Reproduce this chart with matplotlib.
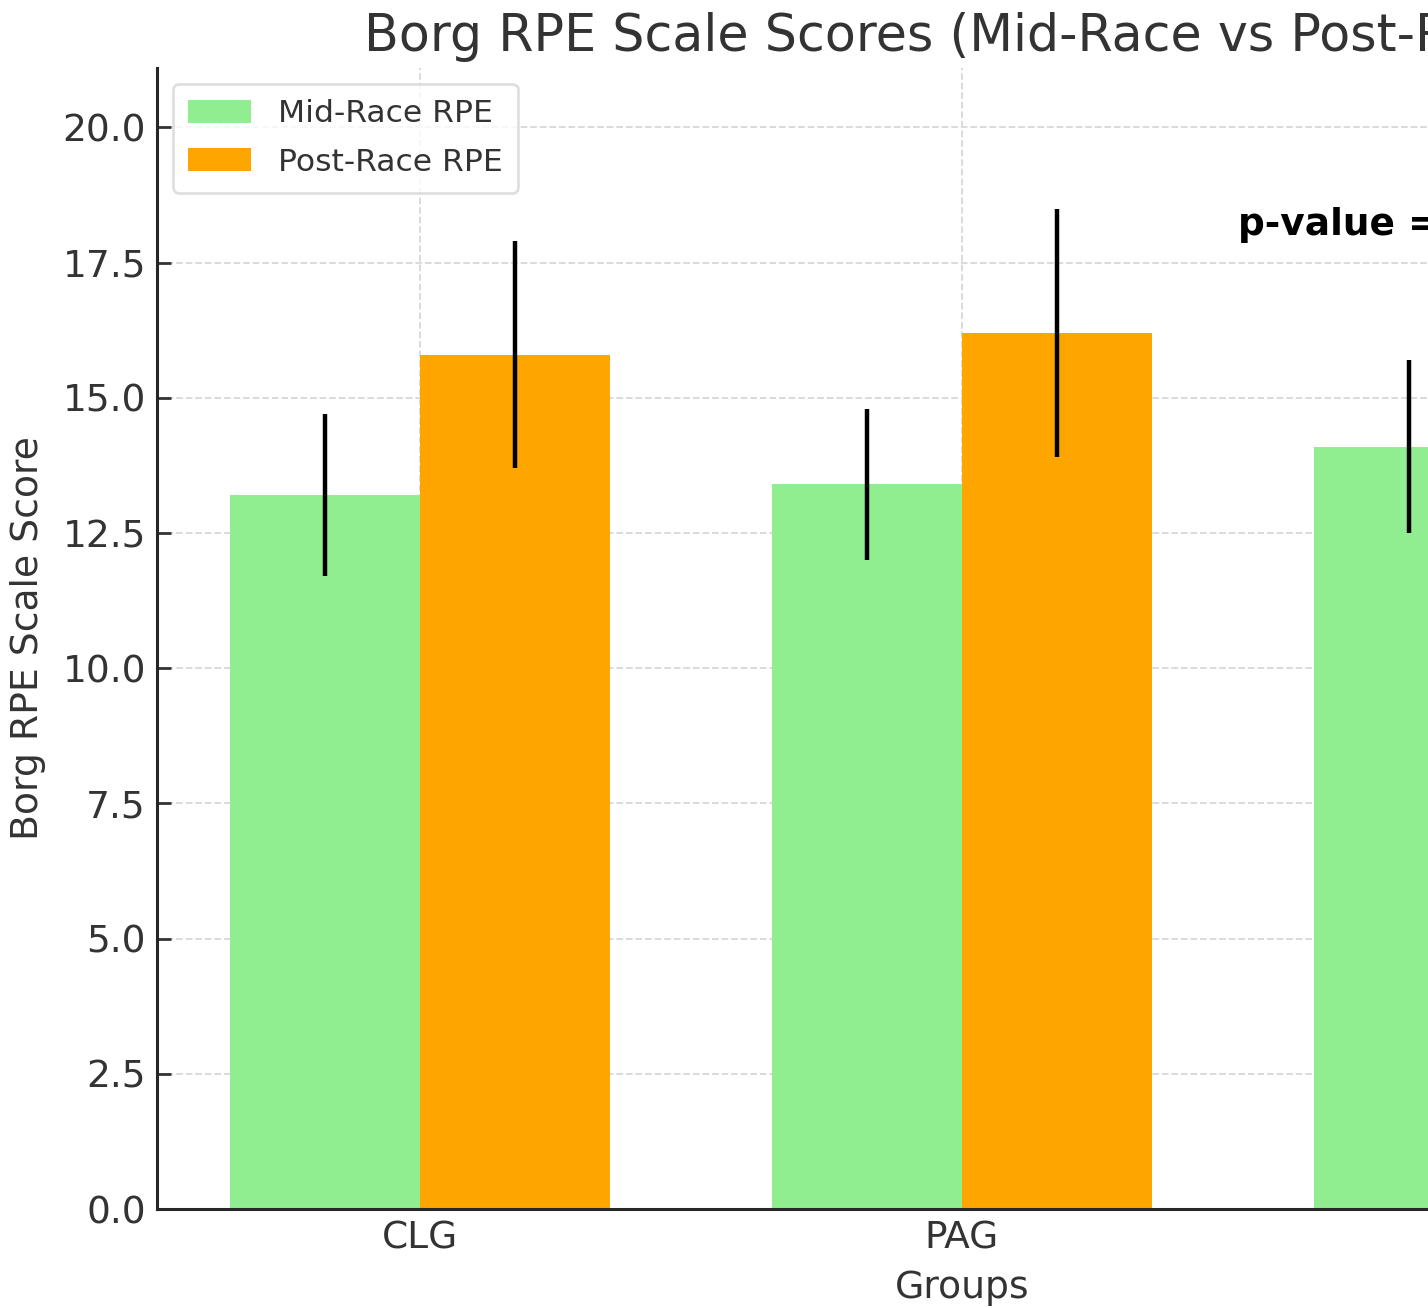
import matplotlib
matplotlib.use("Agg")
import matplotlib.pyplot as plt
import numpy as np

groups = ["CLG", "PAG", "CG"]
mid_race = [13.2, 13.4, 14.1]
mid_err = [1.5, 1.4, 1.6]
post_race = [15.8, 16.2, 16.6]
post_err = [2.1, 2.3, 2.0]
p_text = "p-value = 0.045"

W, H = 1428, 1308
fig = plt.figure(figsize=(W / 100, H / 100), dpi=100)
left, right, bottom, top = 157, 1767, 1209, 68
ax = fig.add_axes([left / W, (H - bottom) / H, (right - left) / W, (bottom - top) / H])

x = np.arange(len(groups))
width = 0.35
ax.bar(x - width / 2, mid_race, width, yerr=mid_err, color="#90EE90",
       label="Mid-Race RPE", error_kw=dict(elinewidth=3.2, ecolor="black", capsize=0), zorder=2)
ax.bar(x + width / 2, post_race, width, yerr=post_err, color="#FFA500",
       label="Post-Race RPE", error_kw=dict(elinewidth=3.2, ecolor="black", capsize=0), zorder=2)

ax.set_xlim(-0.485, 2.485)
ax.set_ylim(0, 21.1)
ax.set_yticks(np.arange(0, 20.1, 2.5))
ax.set_yticklabels([f"{v:.1f}" for v in np.arange(0, 20.1, 2.5)])
ax.set_xticks(x)
ax.set_xticklabels(groups)

tc = "#333333"
ax.tick_params(axis="both", direction="in", length=10, width=2, labelsize=27, colors=tc, pad=8)
ax.grid(True, linestyle="--", color="#d8d8d8", linewidth=1.3, zorder=0)
ax.set_axisbelow(True)
for s in ["top", "right"]:
    ax.spines[s].set_visible(False)
for s in ["left", "bottom"]:
    ax.spines[s].set_linewidth(2.2)
    ax.spines[s].set_color("#262626")

ax.set_title("Borg RPE Scale Scores (Mid-Race vs Post-Race)", fontsize=36.5, color=tc, pad=12)
ax.set_xlabel("Groups", fontsize=27.2, color=tc, labelpad=10)
ax.set_ylabel("Borg RPE Scale Score", fontsize=27.2, color=tc, labelpad=12)

ax.text(1.51, 18.2, p_text, fontsize=27, fontweight="bold", color="black", ha="left", va="center")

leg = ax.legend(loc="upper left", fontsize=22.6, frameon=True, fancybox=True,
                borderpad=0.5, handlelength=2.0, handleheight=0.75, handletextpad=0.85,
                labelspacing=0.62)
leg.get_frame().set_edgecolor("#d8d8d8")
leg.get_frame().set_linewidth(2)
for t in leg.get_texts():
    t.set_color(tc)

fig.savefig("out.png", dpi=100)
